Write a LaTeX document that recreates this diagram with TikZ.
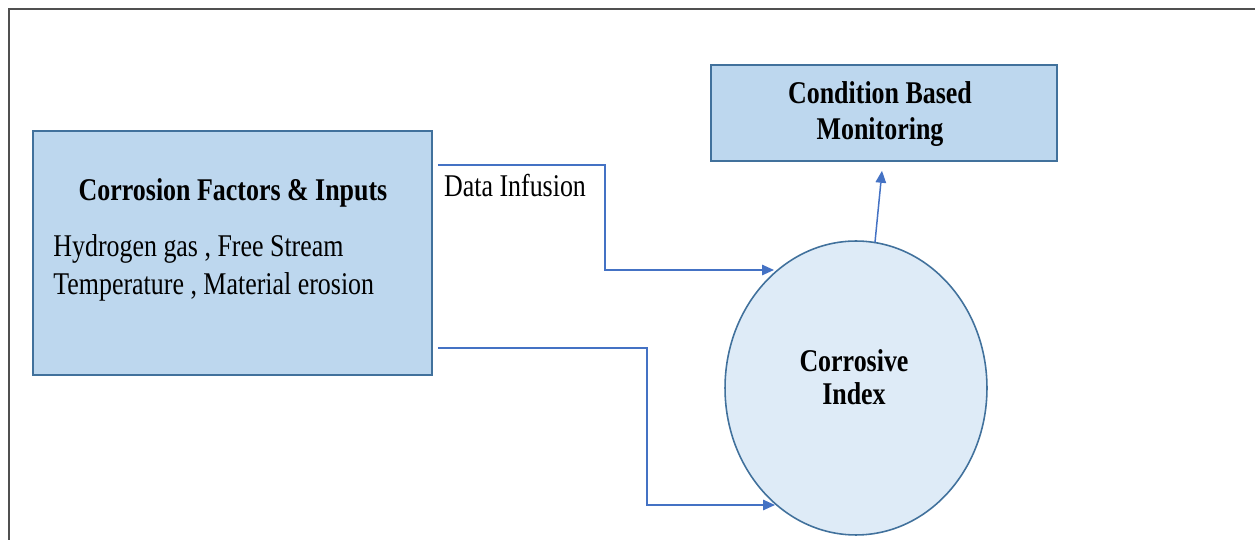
\documentclass[tikz,border=0pt]{standalone}
\usepackage{fontspec}
\setmainfont{Liberation Serif}[FakeStretch=0.82]
\usepackage{tikz}
\usetikzlibrary{arrows.meta,positioning,calc,shapes.geometric}
\definecolor{cbfill}{HTML}{BDD7EE}
\definecolor{cbdraw}{HTML}{41719C}
\definecolor{cifill}{HTML}{DEEBF7}
\definecolor{cbarrow}{HTML}{4472C4}
\definecolor{cbframe}{HTML}{505050}

\begin{document}
\begin{tikzpicture}[x=0.02cm,y=-0.02cm,font=\fontsize{18}{22}\selectfont,
  n/.style={rectangle,draw=cbdraw,fill=cbfill,line width=0.9pt,inner sep=0pt},
  ar/.style={-{Triangle[length=2.4mm,width=2.1mm]},draw=cbarrow,line width=0.85pt},
  t/.style={inner sep=0pt,align=center}]
  \useasboundingbox (0,0) rectangle (1255,540);
  \draw[cbframe,line width=1.1pt] (9,540) -- (9,9) -- (1255,9);
  % boxes and the index
  \node[n,minimum width=7.98cm,minimum height=4.88cm] (inp) at (232.5,253) {};
  \node[t,font=\fontsize{18}{22}\selectfont\bfseries] (inptitle) at (233,193) {Corrosion Factors \& Inputs};
  \node[t,anchor=west,align=left] (inptext) at (53,268) {Hydrogen gas , Free Stream\\ Temperature , Material erosion};
  \node[n,minimum width=6.92cm,minimum height=1.92cm] (cbm) at (884,113) {};
  \node[t,font=\fontsize{18}{20.5}\selectfont\bfseries] (cbmtext) at (880,114) {Condition Based\\ Monitoring};
  \node[ellipse,draw=cbdraw,fill=cifill,line width=0.9pt,minimum width=5.24cm,minimum height=5.88cm,inner sep=0pt] (ci) at (856,388) {};
  \node[t,font=\fontsize{18}{19}\selectfont\bfseries] (citext) at (854,377) {Corrosive\\ Index};
  % connectors
  \draw[ar] ($(inp.north east)+(5,35)$) -- ++(167,0) |- ($(ci.center)+(-82,-118)$);
  \node[t,anchor=north west] (dilabel) at ($(inp.north east)+(11,44)$) {Data Infusion};
  \draw[ar] ($(inp.south east)+(5,-28)$) -- ++(209,0) |- ($(ci.center)+(-81,117)$);
  \draw[ar] ($(ci.north)+(19,2)$) -- ($(cbm.south)+(-2,9)$);
\end{tikzpicture}
\end{document}
